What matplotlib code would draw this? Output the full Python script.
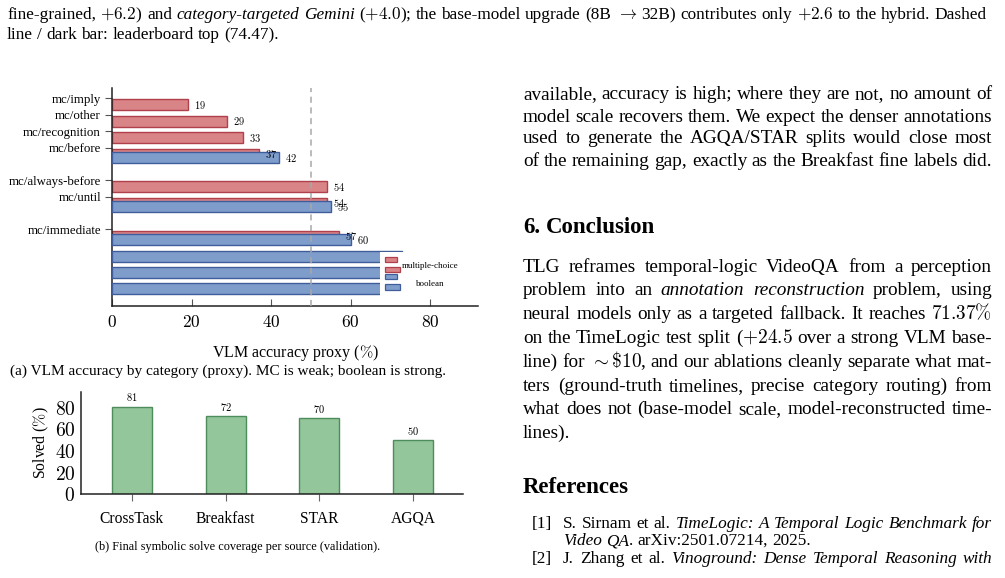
import matplotlib
matplotlib.use('Agg')
import matplotlib.pyplot as plt
import numpy as np
from matplotlib.patches import Rectangle
from matplotlib.ticker import FuncFormatter

plt.rcParams['font.family'] = 'Liberation Serif'
plt.rcParams['mathtext.fontset'] = 'cm'

W, H = 1005, 578

# --- data -------------------------------------------------------------
mc_cats = ['mc/imply', 'mc/other', 'mc/recognition', 'mc/before',
           'mc/always-before', 'mc/until', 'mc/immediate']
mc_acc = [19, 29, 33, 37, 54, 54, 57]
bool_acc = [42, 55, 60, 73, 71, 69]
chance = 50

sources = ['CrossTask', 'Breakfast', 'STAR', 'AGQA']
solved = [81, 72, 70, 50]

# layout of the category slots (pgfplots left gaps in the original)
mc_rows = np.array([0, 1, 2, 3, 5, 6, 8])
bool_rows = np.array([3, 6, 8, 9, 10, 11])

red_fc, red_ec = '#d98487', '#b0414c'
blue_fc, blue_ec = '#7f9dcb', '#3f5d9a'
green_fc, green_ec = '#93c69b', '#4f8c5c'

cm_fmt = FuncFormatter(lambda v, p: '$%g$' % v)

fig = plt.figure(figsize=(W / 100, H / 100), dpi=100)
rend = fig.canvas.get_renderer()

# --- (a) VLM accuracy by category ---------------------------------------
ax1 = fig.add_axes([112 / W, 1 - 305.7 / H, 366 / W, 217.7 / H])
ax1.barh(mc_rows + 0.4, mc_acc, height=0.67, color=red_fc, edgecolor=red_ec, lw=1.0, zorder=2)
ax1.barh(bool_rows + 0.62, bool_acc, height=0.67, color=blue_fc, edgecolor=blue_ec, lw=1.0, zorder=3)
for r, v in zip(mc_rows, mc_acc):
    ax1.annotate('$%d$' % v, (v, r + 0.4), xytext=(4.3, 0), textcoords='offset points',
                 va='center', ha='left', fontsize=7.5, zorder=4)
# labels of the last three boolean bars sit under the legend box: not drawn
for r, v in zip(bool_rows[:3], bool_acc[:3]):
    ax1.annotate('$%d$' % v, (v, r + 0.62), xytext=(4.3, 0), textcoords='offset points',
                 va='center', ha='left', fontsize=7.5, zorder=4)
ax1.axvline(chance, color='#a8a8a8', ls=(0, (4, 3)), lw=1.1, zorder=4)

ax1.set_xlim(0, 92)
ax1.set_ylim(12.65, -0.63)
ax1.set_yticks(mc_rows)
ax1.set_yticklabels(mc_cats, fontsize=9.3)
ax1.set_xticks([0, 20, 40, 60, 80])
ax1.xaxis.set_major_formatter(cm_fmt)
ax1.tick_params(axis='x', direction='in', length=5, labelsize=12.5, pad=7, color='#555555')
ax1.tick_params(axis='y', direction='out', length=5, pad=3, color='#555555')
ax1.set_xlabel('VLM accuracy proxy ($\\%$)', fontsize=11.5, labelpad=8)
for s in ['top', 'right']:
    ax1.spines[s].set_visible(False)
for s in ['left', 'bottom']:
    ax1.spines[s].set_linewidth(1.1)
    ax1.spines[s].set_color('#222222')

# legend drawn by hand (two stacked swatches per entry, white box over bars)
def apx(px, py):
    return (px - 112) / 366, (305.7 - py) / 217.7

def abox(x0, y0, x1, y1, **kw):
    a = apx(x0, y1)
    b = apx(x1, y0)
    ax1.add_patch(Rectangle(a, b[0] - a[0], b[1] - a[1], transform=ax1.transAxes,
                            clip_on=False, **kw))

abox(380, 252, 468, 297, facecolor='white', edgecolor='none', zorder=5)
abox(385, 256.7, 396.7, 261.7, facecolor=red_fc, edgecolor=red_ec, lw=0.9, zorder=6)
abox(385, 266.7, 400, 272.3, facecolor=red_fc, edgecolor=red_ec, lw=0.9, zorder=6)
abox(385, 274.3, 396.7, 279, facecolor=blue_fc, edgecolor=blue_ec, lw=0.9, zorder=6)
abox(385, 284.3, 400, 290, facecolor=blue_fc, edgecolor=blue_ec, lw=0.9, zorder=6)
for lab, py in [('multiple-choice', 265.5), ('boolean', 283.5)]:
    ax1.text(*apx(430.5, py), lab, transform=ax1.transAxes, fontsize=6.5,
             ha='center', va='center', zorder=6)

# --- (b) solve coverage per source --------------------------------------
ax2 = fig.add_axes([81 / W, 1 - 494.3 / H, 382 / W, 102.6 / H])
xs = np.arange(len(sources))
ax2.bar(xs, solved, width=0.426, color=green_fc, edgecolor=green_ec, lw=1.0, zorder=2)
for x, v in zip(xs, solved):
    ax2.annotate('$%d$' % v, (x, v), xytext=(0, 6.9), textcoords='offset points',
                 ha='center', va='center', fontsize=7.5)
ax2.set_xlim(-0.54, 3.53)
ax2.set_ylim(0, 94.7)
ax2.set_xticks(xs)
ax2.set_xticklabels(sources, fontsize=11.2)
ax2.set_yticks([0, 20, 40, 60, 80])
ax2.yaxis.set_major_formatter(cm_fmt)
ax2.tick_params(axis='y', length=0, labelsize=14, pad=4)
ax2.tick_params(axis='x', direction='out', length=5, pad=7, color='#666666')
ax2.set_ylabel('Solved ($\\%$)', fontsize=11.3, labelpad=3)
for s in ['top', 'right']:
    ax2.spines[s].set_visible(False)
for s in ['left', 'bottom']:
    ax2.spines[s].set_linewidth(1.1)
    ax2.spines[s].set_color('#222222')

# --- page text around the figure ----------------------------------------
def words_of(line):
    out = []
    it = False
    for w in line.split(' '):
        segs = []
        for i, p in enumerate(w.split('*')):
            if i > 0:
                it = not it
            if p:
                segs.append((p, it))
        out.append(segs)
    return out

def put_line(x0, x1, y, line, size, justify=True, weight='normal'):
    words = words_of(line)
    objs, widths = [], []
    for segs in words:
        wo, ww = [], 0
        for s, it in segs:
            t = fig.text(0, 0, s, fontsize=size, style='italic' if it else 'normal',
                         weight=weight, va='baseline', ha='left')
            bw = t.get_window_extent(renderer=rend).width
            wo.append((t, bw))
            ww += bw
        objs.append(wo)
        widths.append(ww)
    sp = 0.25 * size * 100 / 72
    if justify and len(words) > 1:
        sp = (x1 - x0 - sum(widths)) / (len(words) - 1)
    x = x0
    for wo, ww in zip(objs, widths):
        xx = x
        for t, bw in wo:
            t.set_position((xx / W, 1 - y / H))
            xx += bw
        x += ww + sp

cap = 12.4
put_line(7, 987, 19, 'fine-grained, $+6.2$) and *category-targeted Gemini* ($+4.0$); the base-model '
         'upgrade (8B $\\rightarrow$ 32B) contributes only $+2.6$ to the hybrid. Dashed', cap)
put_line(7, 987, 39, 'line / dark bar: leaderboard top (74.47).', cap, justify=False)

fig.text(228 / W, 1 - 375 / H, '(a) VLM accuracy by category (proxy). MC is weak; boolean is strong.',
         fontsize=11, ha='center', va='baseline')
fig.text(238 / W, 1 - 550 / H, '(b) Final symbolic solve coverage per source (validation).',
         fontsize=8.8, ha='center', va='baseline')

body = 13.9
L, R = 523, 992
para1 = ['available, accuracy is high; where they are not, no amount of',
         'model scale recovers them. We expect the denser annotations',
         'used to generate the AGQA/STAR splits would close most',
         'of the remaining gap, exactly as the Breakfast fine labels did.']
for y, ln in zip([99.3, 121.7, 143.3, 166], para1):
    put_line(L, R, y, ln, body)

put_line(L, R, 232.7, '6. Conclusion', 16.5, justify=False, weight='bold')

para2 = ['TLG reframes temporal-logic VideoQA from a perception',
         'problem into an *annotation reconstruction* problem, using',
         'neural models only as a targeted fallback. It reaches $71.37\\%$',
         'on the TimeLogic test split ($+24.5$ over a strong VLM base-',
         'line) for $\\sim\\$10$, and our ablations cleanly separate what mat-',
         'ters (ground-truth timelines, precise category routing) from',
         'what does not (base-model scale, model-reconstructed time-',
         'lines).']
ys2 = [271.7, 295, 319, 343.3, 366.7, 390.7, 414.3, 438.3]
for i, (y, ln) in enumerate(zip(ys2, para2)):
    put_line(L, R, y, ln, body, justify=(i < len(para2) - 1))

put_line(L, R, 493.3, 'References', 16.5, justify=False, weight='bold')

ref = 12.4
put_line(532, R, 528.3, '[1]', ref, justify=False)
put_line(563, R, 528.3, 'S. Sirnam et al. *TimeLogic: A Temporal Logic Benchmark for*', ref)
put_line(563, R, 545, '*Video QA*. arXiv:2501.07214, 2025.', ref, justify=False)
put_line(532, R, 563.3, '[2]', ref, justify=False)
put_line(563, R, 563.3, 'J. Zhang et al. *Vinoground: Dense Temporal Reasoning with*', ref)

fig.savefig('out.png', dpi=100)
